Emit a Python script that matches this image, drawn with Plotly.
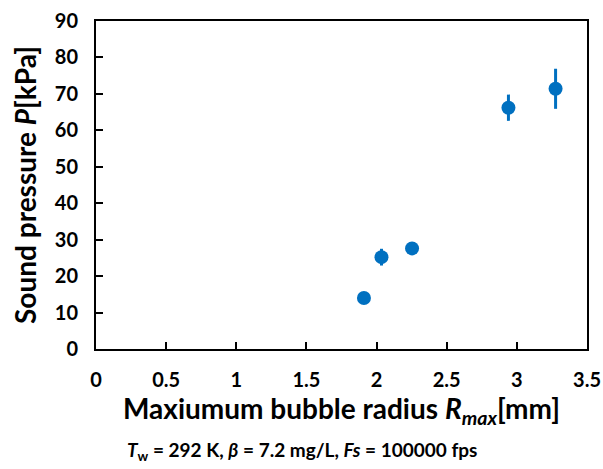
import plotly.graph_objects as go

radius_mm = [1.91, 2.035, 2.253, 2.94, 3.276]
pressure_kpa = [14.0, 25.2, 27.6, 66.2, 71.4]
pressure_err = [0.6, 2.3, 1.0, 3.6, 5.5]

x_ticks = [0, 0.5, 1, 1.5, 2, 2.5, 3, 3.5]
x_tick_labels = ["0", "0.5", "1", "1.5", "2", "2.5", "3", "3.5"]
y_ticks = [0, 10, 20, 30, 40, 50, 60, 70, 80, 90]

FONT = "Lato, 'Open Sans', sans-serif"
BLUE = "#0070C0"

fig = go.Figure()
fig.add_trace(go.Scatter(
    x=radius_mm, y=pressure_kpa, mode="markers",
    marker=dict(color=BLUE, size=14),
    error_y=dict(type="data", array=pressure_err, color=BLUE, thickness=3, width=0),
    showlegend=False, cliponaxis=False,
))

axis_common = dict(
    showline=True, linecolor="#000000", linewidth=2, mirror=True,
    ticks="inside", ticklen=7, tickwidth=2, tickcolor="#000000",
    showgrid=False, zeroline=False, automargin=False,
    tickfont=dict(family=FONT, size=20, color="#000000", weight="bold"),
)

fig.update_xaxes(
    range=[0, 3.5], tickvals=x_ticks, ticktext=x_tick_labels,
    ticklabelstandoff=12,
    title=dict(text="Maxiumum bubble radius <i>R<sub>max</sub></i>[mm]",
               font=dict(family=FONT, size=28, color="#000000", weight="bold"),
               standoff=6),
    **axis_common,
)
fig.update_yaxes(
    range=[0, 90], tickvals=y_ticks,
    ticklabelstandoff=12,
    title=dict(text="Sound pressure <i>P</i>[kPa]",
               font=dict(family=FONT, size=28, color="#000000", weight="bold"),
               standoff=10),
    **axis_common,
)

fig.add_annotation(
    text="<i>T</i><sub>w</sub> = 292 K, <i>β</i> = 7.2 mg/L, <i>Fs</i> = 100000 fps",
    xref="paper", yref="paper", x=0.42, y=-0.31, xanchor="center", yanchor="middle",
    showarrow=False,
    font=dict(family=FONT, size=19, color="#000000", weight="bold"),
)

fig.update_layout(
    width=603, height=469,
    margin=dict(l=96, r=16, t=21, b=120),
    plot_bgcolor="white", paper_bgcolor="white",
)

fig.write_html(
    "out.html",
    config={"displayModeBar": False},
    post_script="document.body.style.margin='0';document.body.style.overflow='hidden';",
)
